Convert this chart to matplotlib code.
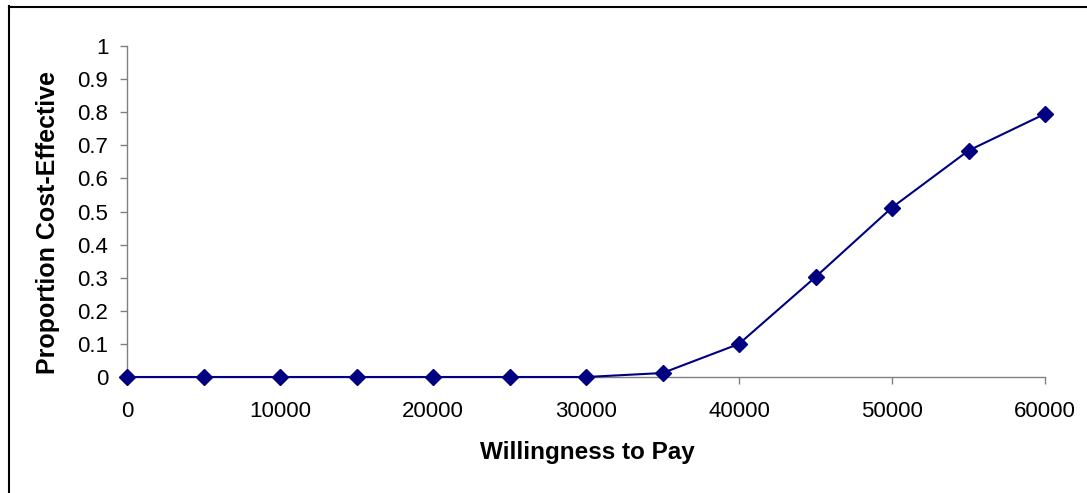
import matplotlib
matplotlib.use("Agg")
import matplotlib.pyplot as plt
from matplotlib.lines import Line2D

wtp = [0, 5000, 10000, 15000, 20000, 25000, 30000, 35000, 40000, 45000, 50000, 55000, 60000]
prop_ce = [0, 0, 0, 0, 0, 0, 0, 0.012, 0.1, 0.302, 0.512, 0.684, 0.795]
x_ticks = [0, 10000, 20000, 30000, 40000, 50000, 60000]
y_ticks = [0, 0.1, 0.2, 0.3, 0.4, 0.5, 0.6, 0.7, 0.8, 0.9, 1]
y_tick_labels = ["0", "0.1", "0.2", "0.3", "0.4", "0.5", "0.6", "0.7", "0.8", "0.9", "1"]

plt.rcParams['font.family'] = ['Liberation Sans', 'DejaVu Sans']

W, H = 1087, 493
fig = plt.figure(figsize=(W/100, H/100), dpi=100)
ax = fig.add_axes([127/W, 1-377/H, (1045-127)/W, (377-46)/H])

ax.plot(wtp, prop_ce, color='#000080', linewidth=1.5, marker='D', markersize=8,
        clip_on=False, zorder=5)

ax.set_xlim(0, 60000)
ax.set_ylim(0, 1)
ax.set_xticks(x_ticks)
ax.set_xticklabels([str(v) for v in x_ticks])
ax.set_yticks(y_ticks)
ax.set_yticklabels(y_tick_labels)

for s in ['top', 'right']:
    ax.spines[s].set_visible(False)
for s in ['left', 'bottom']:
    ax.spines[s].set_color('#808080')
    ax.spines[s].set_linewidth(1.0)

ax.tick_params(axis='both', direction='out', length=5, width=1, color='#808080',
               labelsize=16, labelcolor='black')
ax.tick_params(axis='x', pad=12)
ax.tick_params(axis='y', pad=8.5)

fig.text(587/W, 1-453/H, 'Willingness to Pay', fontsize=17.5, fontweight='bold',
         ha='center', va='center')
fig.text(48/W, 1-223/H, 'Proportion Cost-Effective', fontsize=18, fontweight='bold',
         ha='center', va='center', rotation=90)

# figure border (left and top only visible)
fig.add_artist(Line2D([9/W, 9/W], [0, 1-6/H], transform=fig.transFigure, color='black', linewidth=1.5))
fig.add_artist(Line2D([9/W, 1], [1-7/H, 1-7/H], transform=fig.transFigure, color='black', linewidth=1.5))

fig.savefig('out.png', dpi=100)
